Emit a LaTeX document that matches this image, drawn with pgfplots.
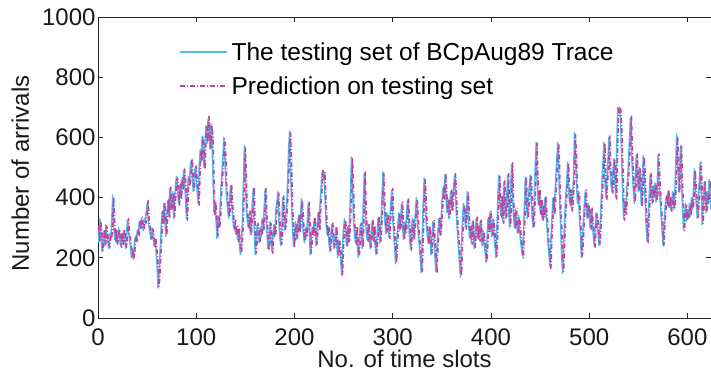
\documentclass[border=0pt]{standalone}
\usepackage{fontspec}
\setmainfont{Liberation Sans}
\usepackage{pgfplots}
\usepackage{pgfplotstable}
\pgfplotsset{compat=1.18}
\definecolor{tblue}{RGB}{77,190,238}
\definecolor{tmag}{RGB}{190,70,160}
\pgfplotstableread[row sep=\\]{
a p\\
300 290\\ 250 305\\ 330 255\\ 280 320\\ 220 285\\
260 225\\ 290 255\\ 240 295\\ 310 245\\ 270 305\\
250 275\\ 230 245\\ 280 235\\ 260 275\\ 330 265\\
408 320\\ 300 400\\ 260 305\\ 290 255\\ 250 295\\
270 245\\ 300 275\\ 260 295\\ 240 265\\ 280 235\\
250 285\\ 290 245\\ 270 295\\ 230 265\\ 280 235\\
325 275\\ 290 330\\ 260 285\\ 240 265\\ 200 235\\
230 205\\ 195 225\\ 250 200\\ 270 245\\ 260 275\\
290 255\\ 280 295\\ 320 275\\ 300 325\\ 330 295\\
310 335\\ 290 305\\ 330 295\\ 320 325\\ 350 315\\
380 355\\ 330 390\\ 300 325\\ 280 305\\ 260 275\\
300 265\\ 270 295\\ 240 275\\ 260 235\\ 230 265\\
180 225\\ 100 185\\ 140 105\\ 210 135\\ 280 215\\
350 275\\ 320 355\\ 380 315\\ 330 385\\ 270 325\\
350 275\\ 390 345\\ 340 395\\ 430 335\\ 380 435\\
360 375\\ 420 365\\ 330 415\\ 400 335\\ 450 395\\
470 455\\ 420 465\\ 380 425\\ 440 375\\ 400 445\\
460 395\\ 430 465\\ 490 425\\ 470 495\\ 400 465\\
330 405\\ 420 325\\ 470 425\\ 440 465\\ 510 445\\
523 505\\ 460 530\\ 420 455\\ 480 425\\ 500 475\\
460 505\\ 420 455\\ 380 425\\ 500 375\\ 560 505\\
520 555\\ 605 525\\ 540 600\\ 500 545\\ 600 495\\
640 605\\ 580 635\\ 660 585\\ 610 670\\ 560 605\\
645 565\\ 600 640\\ 470 605\\ 353 465\\ 380 345\\
330 385\\ 265 325\\ 340 270\\ 300 335\\ 350 305\\
420 345\\ 480 425\\ 530 475\\ 600 535\\ 540 595\\
450 545\\ 400 445\\ 360 405\\ 330 355\\ 400 335\\
440 395\\ 380 445\\ 340 375\\ 300 345\\ 320 295\\
280 325\\ 300 275\\ 260 305\\ 290 255\\ 240 295\\
210 235\\ 260 215\\ 320 255\\ 450 325\\ 573 445\\
470 565\\ 360 475\\ 320 355\\ 300 325\\ 350 295\\
280 355\\ 310 275\\ 380 315\\ 430 375\\ 300 435\\
210 295\\ 260 215\\ 310 255\\ 280 315\\ 250 275\\
300 255\\ 270 295\\ 330 275\\ 290 325\\ 360 295\\
425 355\\ 340 430\\ 280 335\\ 230 285\\ 260 225\\
320 265\\ 250 315\\ 220 255\\ 280 215\\ 310 285\\
270 305\\ 360 275\\ 380 355\\ 420 385\\ 330 415\\
270 335\\ 240 265\\ 300 245\\ 400 295\\ 350 405\\
290 345\\ 330 295\\ 380 325\\ 450 385\\ 560 445\\
620 565\\ 500 615\\ 380 505\\ 300 375\\ 238 305\\
280 235\\ 320 285\\ 260 315\\ 300 265\\ 340 295\\
290 345\\ 330 285\\ 397 335\\ 330 390\\ 280 335\\
250 275\\ 300 255\\ 270 295\\ 320 275\\ 380 315\\
300 385\\ 210 295\\ 260 215\\ 300 255\\ 280 305\\
330 275\\ 290 335\\ 240 285\\ 300 245\\ 350 295\\
300 355\\ 380 295\\ 430 385\\ 485 425\\ 470 490\\
480 465\\ 400 485\\ 320 395\\ 280 325\\ 300 275\\
250 305\\ 220 245\\ 280 225\\ 310 275\\ 270 315\\
230 265\\ 260 235\\ 300 255\\ 240 305\\ 200 235\\
260 205\\ 230 255\\ 190 235\\ 140 185\\ 250 145\\
300 245\\ 330 305\\ 280 325\\ 240 285\\ 300 235\\
260 305\\ 320 255\\ 420 325\\ 535 415\\ 440 530\\
330 445\\ 280 325\\ 250 285\\ 300 245\\ 240 305\\
200 235\\ 260 205\\ 310 255\\ 280 315\\ 230 275\\
380 235\\ 480 375\\ 360 485\\ 290 355\\ 260 295\\
310 255\\ 270 315\\ 230 265\\ 280 235\\ 320 275\\
260 325\\ 300 255\\ 240 305\\ 210 235\\ 270 215\\
330 265\\ 290 335\\ 250 285\\ 320 255\\ 400 315\\
485 405\\ 380 480\\ 320 385\\ 280 315\\ 350 285\\
310 345\\ 270 315\\ 330 265\\ 380 335\\ 425 375\\
330 430\\ 280 325\\ 230 285\\ 180 225\\ 260 185\\
300 255\\ 350 305\\ 290 345\\ 330 295\\ 380 325\\
300 385\\ 260 295\\ 320 265\\ 280 315\\ 340 285\\
392 335\\ 330 395\\ 270 325\\ 230 275\\ 290 225\\
330 295\\ 260 325\\ 300 265\\ 350 295\\ 400 355\\
330 395\\ 280 335\\ 240 275\\ 200 245\\ 150 195\\
260 155\\ 380 255\\ 465 385\\ 400 460\\ 320 405\\
280 315\\ 250 285\\ 300 245\\ 260 305\\ 210 255\\
280 215\\ 320 275\\ 270 325\\ 200 265\\ 155 205\\
230 150\\ 290 235\\ 330 285\\ 280 335\\ 310 275\\
380 315\\ 430 375\\ 400 435\\ 475 395\\ 420 480\\
350 415\\ 400 355\\ 330 395\\ 380 335\\ 420 375\\
360 425\\ 400 355\\ 440 405\\ 475 435\\ 400 480\\
330 395\\ 280 335\\ 230 275\\ 180 235\\ 135 175\\
250 140\\ 330 245\\ 380 335\\ 350 375\\ 300 355\\
360 295\\ 420 365\\ 330 415\\ 270 335\\ 300 265\\
250 305\\ 320 245\\ 280 325\\ 230 275\\ 290 235\\
330 285\\ 270 335\\ 300 265\\ 260 305\\ 320 255\\
280 325\\ 240 275\\ 290 245\\ 250 285\\ 220 255\\
185 215\\ 260 190\\ 330 255\\ 290 335\\ 350 285\\
300 355\\ 270 295\\ 330 275\\ 280 325\\ 240 285\\
200 235\\ 300 205\\ 400 295\\ 475 405\\ 380 470\\
340 385\\ 400 335\\ 320 405\\ 450 315\\ 380 455\\
330 375\\ 400 335\\ 475 395\\ 360 480\\ 300 355\\
420 305\\ 512 415\\ 400 515\\ 330 395\\ 300 335\\
360 295\\ 320 365\\ 280 315\\ 340 285\\ 300 335\\
260 305\\ 230 255\\ 205 235\\ 280 200\\ 380 285\\
468 375\\ 380 470\\ 330 375\\ 400 335\\ 440 395\\
475 445\\ 380 470\\ 330 385\\ 300 325\\ 400 305\\
500 395\\ 584 505\\ 450 580\\ 380 455\\ 420 375\\
350 425\\ 390 345\\ 330 395\\ 370 325\\ 340 375\\
400 335\\ 350 405\\ 300 345\\ 250 305\\ 210 245\\
170 215\\ 260 165\\ 330 265\\ 397 325\\ 350 400\\
400 345\\ 470 405\\ 530 465\\ 584 535\\ 480 580\\
380 485\\ 300 375\\ 200 305\\ 148 195\\ 250 155\\
330 245\\ 400 335\\ 450 395\\ 518 455\\ 430 515\\
380 435\\ 420 375\\ 360 425\\ 400 355\\ 470 405\\
616 465\\ 540 610\\ 450 545\\ 380 445\\ 420 385\\
330 415\\ 280 335\\ 200 275\\ 260 205\\ 320 255\\
380 325\\ 420 375\\ 360 425\\ 330 355\\ 380 335\\
340 375\\ 300 345\\ 360 295\\ 320 365\\ 280 315\\
240 285\\ 300 235\\ 350 305\\ 320 345\\ 280 325\\
240 275\\ 300 245\\ 380 295\\ 450 385\\ 520 445\\
584 525\\ 450 580\\ 400 455\\ 460 395\\ 520 465\\
600 515\\ 500 605\\ 450 495\\ 420 455\\ 480 415\\
530 485\\ 450 525\\ 400 455\\ 560 395\\ 700 565\\
680 695\\ 700 685\\ 640 695\\ 540 645\\ 420 535\\
331 425\\ 380 325\\ 350 385\\ 420 345\\ 460 425\\
520 455\\ 600 525\\ 665 595\\ 560 670\\ 480 555\\
420 485\\ 380 415\\ 480 385\\ 540 475\\ 460 545\\
420 455\\ 500 425\\ 450 495\\ 375 455\\ 440 370\\
540 445\\ 470 535\\ 380 475\\ 300 375\\ 255 305\\
330 250\\ 400 335\\ 475 395\\ 420 480\\ 380 415\\
440 385\\ 400 435\\ 450 405\\ 385 445\\ 420 390\\
540 415\\ 460 545\\ 400 455\\ 350 405\\ 300 345\\
243 305\\ 300 240\\ 360 305\\ 400 355\\ 380 405\\
420 375\\ 370 425\\ 400 365\\ 360 405\\ 380 355\\
420 385\\ 360 415\\ 400 365\\ 500 395\\ 611 505\\
520 605\\ 420 525\\ 480 415\\ 573 485\\ 450 570\\
360 455\\ 293 355\\ 340 290\\ 380 345\\ 320 375\\
360 325\\ 330 355\\ 380 335\\ 340 375\\ 400 345\\
360 395\\ 420 365\\ 496 415\\ 420 490\\ 380 425\\
330 375\\ 400 335\\ 450 395\\ 518 455\\ 420 515\\
310 425\\ 380 315\\ 450 375\\ 400 455\\ 350 395\\
420 355\\ 380 415\\ 460 385\\ 400 455\\ 360 405\\
}\data
\begin{document}
\begin{tikzpicture}
\begin{axis}[
  name=ax,
  scale only axis, width=613pt, height=301pt,
  xmin=0, xmax=624, ymin=0, ymax=1000,
  xtick={0,100,...,600}, ytick={0,200,...,1000},
  tick align=inside, major tick length=5pt,
  axis line style={line width=0.8pt, black!85},
  every tick/.style={black!85, line width=0.8pt},
  /pgf/number format/assume math mode=true,
  /pgf/number format/1000 sep={},
  tick label style={font=\fontsize{24}{28}\selectfont, black!90},
  xticklabel style={yshift=-7pt},
  yticklabel style={xshift=1pt},
  label style={font=\fontsize{24}{28}\selectfont, black!90},
  xlabel={No. of time slots}, ylabel={Number of arrivals},
  xlabel style={yshift=2pt},
  ylabel style={yshift=6pt, xshift=-6pt},
  legend style={draw=none, fill=none, at={(0.127,0.93)}, anchor=north west,
    font=\fontsize{24.5}{28}\selectfont, row sep=11pt,
    nodes={inner xsep=4pt}},
  legend cell align=left,
  legend image code/.code={\draw[#1] (0pt,0pt) -- (47pt,0pt);},
  line join=round,
]
\addplot[tblue, line width=1.4pt] table[x expr=\coordindex, y=a] {\data};
\addlegendentry{The testing set of BCpAug89 Trace}
\addplot[tmag, line width=1.6pt, dash pattern=on 5pt off 2pt on 1pt off 2pt] table[x expr=\coordindex, y=p] {\data};
\addlegendentry{Prediction on testing set}
\end{axis}
\pgfresetboundingbox
\path[use as bounding box] ([xshift=-98pt,yshift=-59pt]ax.south west) rectangle ([yshift=17pt]ax.north east);
\end{tikzpicture}
\end{document}
